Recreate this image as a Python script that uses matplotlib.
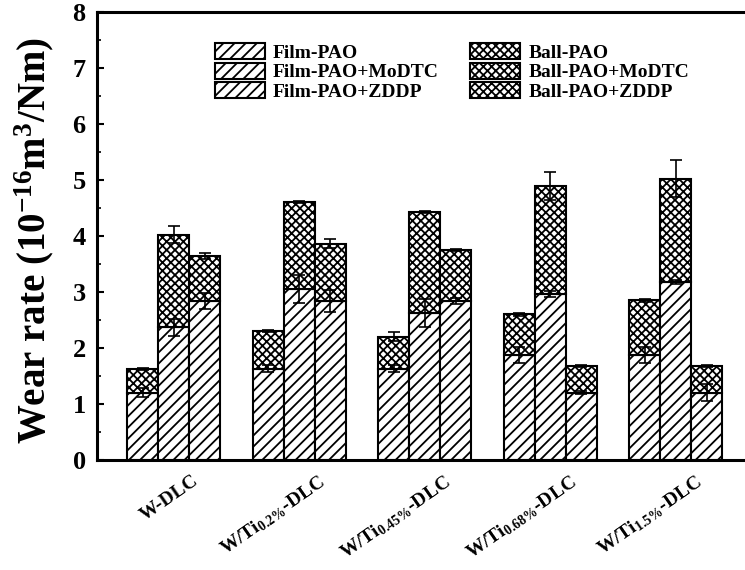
import numpy as np
import matplotlib
matplotlib.use('Agg')
import matplotlib.pyplot as plt
from matplotlib.transforms import ScaledTranslation

plt.rcParams['font.family'] = ['Liberation Serif', 'DejaVu Serif']
plt.rcParams['font.weight'] = 'bold'
plt.rcParams['axes.labelweight'] = 'bold'
plt.rcParams['mathtext.fontset'] = 'custom'
plt.rcParams['mathtext.rm'] = 'Liberation Serif:bold'
plt.rcParams['mathtext.it'] = 'Liberation Serif:bold'
plt.rcParams['mathtext.bf'] = 'Liberation Serif:bold'
plt.rcParams['hatch.linewidth'] = 1.3

coatings = ['W-DLC', r'W/Ti$_{0.2\%}$-DLC', r'W/Ti$_{0.45\%}$-DLC',
            r'W/Ti$_{0.68\%}$-DLC', r'W/Ti$_{1.5\%}$-DLC']

# wear rate of the film (bottom of stack) and the ball (top of stack)
film_pao = [1.20, 1.63, 1.63, 1.88, 1.88]
film_mo = [2.37, 3.05, 2.63, 2.96, 3.18]
film_zd = [2.84, 2.84, 2.84, 1.20, 1.20]
ball_pao = [0.43, 0.67, 0.57, 0.72, 0.97]
ball_mo = [1.65, 1.55, 1.80, 1.93, 1.84]
ball_zd = [0.80, 1.02, 0.91, 0.48, 0.48]

film_pao_err = [0.08, 0.06, 0.06, 0.14, 0.14]
film_mo_err = [0.15, 0.25, 0.25, 0.05, 0.03]
film_zd_err = [0.15, 0.20, 0.05, 0.03, 0.15]
ball_pao_err = [0.02, 0.02, 0.08, 0.03, 0.02]
ball_mo_err = [0.15, 0.02, 0.02, 0.25, 0.33]
ball_zd_err = [0.05, 0.08, 0.02, 0.02, 0.02]

films = [film_pao, film_mo, film_zd]
balls = [ball_pao, ball_mo, ball_zd]
film_errs = [film_pao_err, film_mo_err, film_zd_err]
ball_errs = [ball_pao_err, ball_mo_err, ball_zd_err]
lubes = ['PAO', 'PAO+MoDTC', 'PAO+ZDDP']

fig = plt.figure(figsize=(7.45, 5.7), dpi=100)
ax = fig.add_axes([0.130, 0.193, 0.870, 0.786])

x = np.arange(len(coatings))
w = 0.247
offsets = [-w, 0, w]

film_handles = []
ball_handles = []
for i in range(3):
    f = np.array(films[i])
    b = np.array(balls[i])
    hf = ax.bar(x + offsets[i], f, w, color='white', edgecolor='black',
                hatch='///', linewidth=1.5, label='Film-' + lubes[i], zorder=2)
    hb = ax.bar(x + offsets[i], b, w, bottom=f, color='white', edgecolor='black',
                hatch='xxxx', linewidth=1.5, label='Ball-' + lubes[i], zorder=2)
    film_handles.append(hf)
    ball_handles.append(hb)
    ax.errorbar(x + offsets[i], f, yerr=film_errs[i], fmt='none', ecolor='black',
                elinewidth=1.2, capsize=4, capthick=1.2, zorder=3)
    ax.errorbar(x + offsets[i], f + b, yerr=ball_errs[i], fmt='none', ecolor='black',
                elinewidth=1.2, capsize=4, capthick=1.2, zorder=3)

ax.set_xlim(-0.614, 4.55)
ax.set_ylim(0, 8)
ax.set_yticks(range(0, 9))
ax.set_yticks(np.arange(0.5, 8, 1), minor=True)
ax.tick_params(axis='y', which='major', direction='in', length=5, width=1.5,
               labelsize=19, pad=8)
ax.tick_params(axis='y', which='minor', direction='in', length=3, width=1.2)
ax.tick_params(axis='x', length=0, pad=9)
ax.set_xticks(x)
ax.set_xticklabels(coatings, rotation=35, ha='right', va='top',
                   rotation_mode='anchor', fontsize=14)
shift = ScaledTranslation(0.18, 0, fig.dpi_scale_trans)
for lbl in ax.get_xticklabels():
    lbl.set_transform(lbl.get_transform() + shift)

for s in ['left', 'bottom', 'top']:
    ax.spines[s].set_linewidth(2.2)
ax.spines['right'].set_visible(False)

ax.set_ylabel(r'Wear rate (10$^{-16}$m$^{3}$/Nm)', fontsize=28, fontweight='bold')
ax.yaxis.set_label_coords(-0.063, 0.49)

handles = film_handles + ball_handles
ax.legend(handles=handles, labels=[h.get_label() for h in handles], ncol=2,
          frameon=False, fontsize=14, loc='upper left',
          bbox_to_anchor=(0.275, 0.942), bbox_transform=fig.transFigure,
          borderpad=0, handlelength=2.6, handleheight=0.9, labelspacing=0.05,
          handletextpad=0.4, columnspacing=1.6)

fig.savefig('out.png', dpi=100)
